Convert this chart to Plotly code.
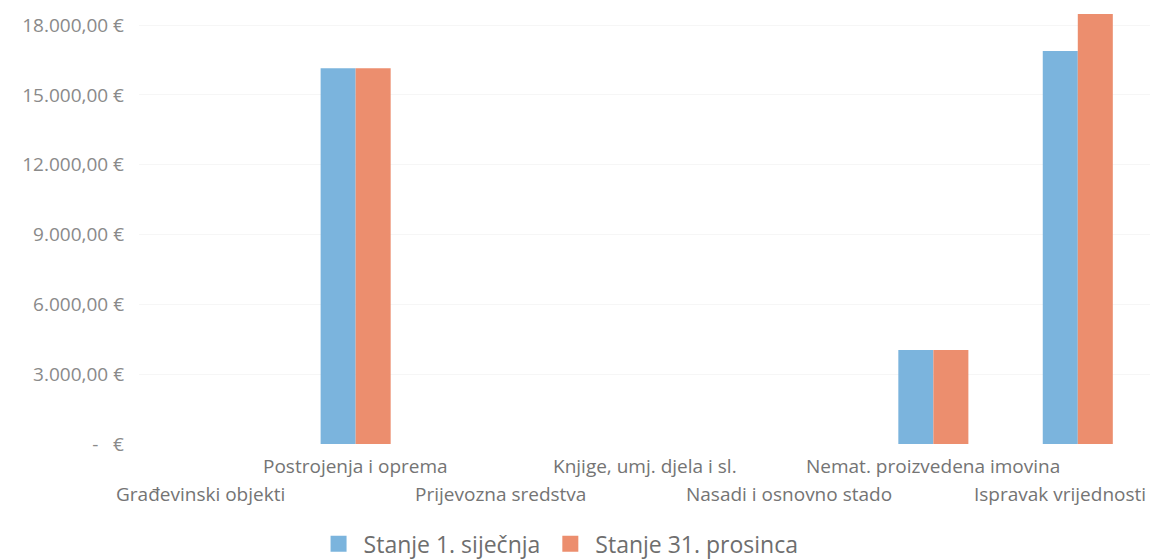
import plotly.graph_objects as go

categories = ['Građevinski objekti', 'Postrojenja i oprema', 'Prijevozna sredstva',
              'Knjige, umj. djela i sl.', 'Nasadi i osnovno stado',
              'Nemat. proizvedena imovina', 'Ispravak vrijednosti']
stanje_1_sijecnja = [0, 16150, 0, 0, 0, 4040, 16890]
stanje_31_prosinca = [0, 16150, 0, 0, 0, 4040, 18480]
y_ticks = [0, 3000, 6000, 9000, 12000, 15000, 18000]
y_ticktext = ['-   €', '3.000,00 €', '6.000,00 €', '9.000,00 €',
              '12.000,00 €', '15.000,00 €', '18.000,00 €']
series_names = ['Stanje 1. siječnja', 'Stanje 31. prosinca']
colors = ['#7bb4dd', '#ec8e6e']

fig = go.Figure()
for vals, name, col in zip([stanje_1_sijecnja, stanje_31_prosinca], series_names, colors):
    fig.add_trace(go.Bar(x=categories, y=vals, name=name, showlegend=False,
                         marker=dict(color=col, line=dict(width=0))))
# legend entries with bigger square swatches
for name, col in zip(series_names, colors):
    fig.add_trace(go.Scatter(x=[None], y=[None], mode='markers', name=name,
                             marker=dict(symbol='square', size=16, color=col)))

# staggered category labels, the outer ones pulled inwards like in the original
for i, c in enumerate(categories):
    shift = 0
    if i == 0:
        shift = -11
    elif i == len(categories) - 1:
        shift = -18
    fig.add_annotation(x=c, y=0, xref='x', yref='y', text=c, showarrow=False,
                       xanchor='center', yanchor='top',
                       yshift=-35 if i % 2 == 0 else -7, xshift=shift,
                       font=dict(family='Open Sans', size=19, color='#747474'))

# page body has an 8px margin, so the figure is a bit smaller than the window
fig.update_layout(
    width=1153, height=552,
    margin=dict(l=131, r=11, t=2, b=116, autoexpand=False),
    paper_bgcolor='white', plot_bgcolor='white',
    barmode='group', bargap=0.515, bargroupgap=0,
    font=dict(family='Open Sans', color='#7a7a7a', size=19),
    showlegend=True,
    legend=dict(orientation='h', x=0.415, xanchor='center', y=-0.23, yanchor='middle',
                font=dict(size=23, color='#6e6e6e'), itemwidth=40, itemsizing='trace'),
    xaxis=dict(type='category', categoryorder='array', categoryarray=categories,
               range=[-0.5, len(categories) - 0.5],
               showticklabels=False, automargin=False,
               showgrid=False, showline=False, ticks='', zeroline=False),
    yaxis=dict(range=[0, 18650], tickmode='array', tickvals=y_ticks, ticktext=y_ticktext,
               automargin=False, ticklabelstandoff=14,
               showgrid=True, gridcolor='#f6f6f6', zeroline=False, showline=False,
               ticks='', tickfont=dict(size=19, color='#8a8a8a')),
)

fig.write_html("out.html")
